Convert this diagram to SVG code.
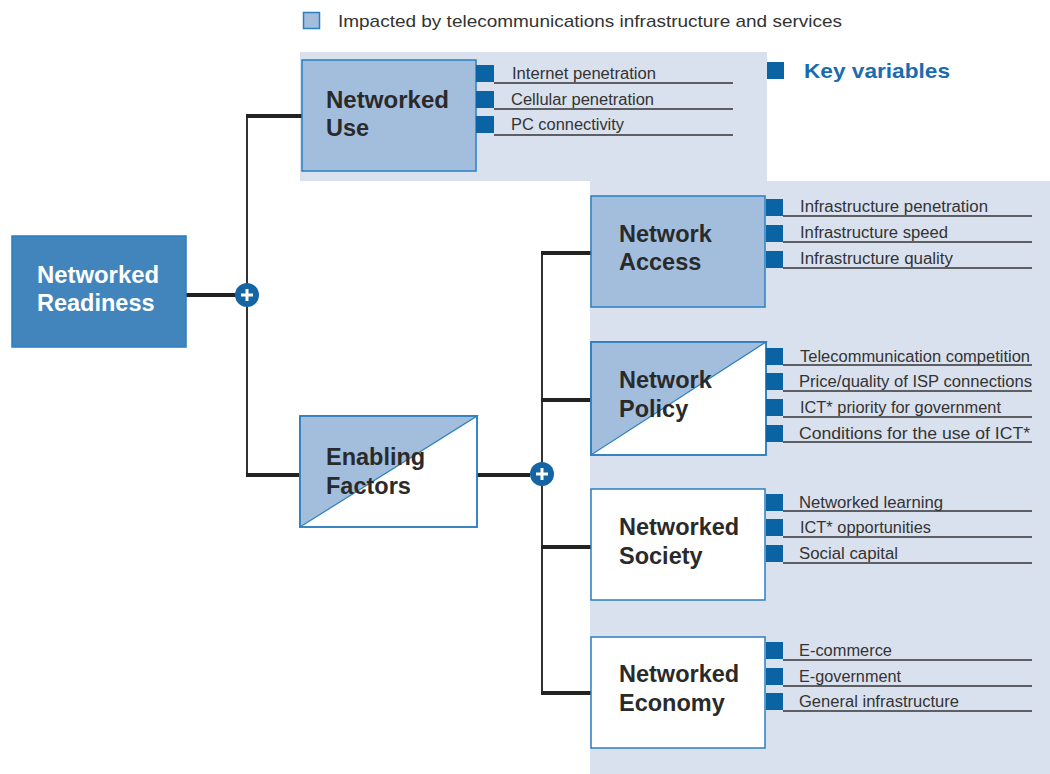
<svg xmlns="http://www.w3.org/2000/svg" width="1050" height="774" viewBox="0 0 1050 774">
  <defs>
    <style>
      .panel { fill: #dae1ee; }
      .box { stroke: #2b7fc0; stroke-width: 1.5; }
      .lb { fill: #a3bedd; }
      .wh { fill: #ffffff; }
      .diag { fill: #a3bedd; stroke: #2b7fc0; stroke-width: 1.2; }
      .title { font-family: "Liberation Sans", Arial, sans-serif; font-weight: bold; font-size: 23.5px; fill: #2a2a2a; }
      .title-w { font-family: "Liberation Sans", Arial, sans-serif; font-weight: bold; font-size: 23.5px; fill: #ffffff; }
      .var { font-family: "Liberation Sans", Arial, sans-serif; font-size: 16px; fill: #333333; }
      .tab { fill: #0a64a4; }
      .rule { stroke: #333333; stroke-width: 1.5; fill: none; }
      .thick { stroke: #222222; stroke-width: 4; fill: none; }
      .thin { stroke: #333333; stroke-width: 2; fill: none; }
      .plus-c { fill: #1565a5; }
      .plus { stroke: #ffffff; stroke-width: 3; }
    </style>
    <g id="plus">
      <circle class="plus-c" r="12"/>
      <line class="plus" x1="-6" y1="0" x2="6" y2="0"/>
      <line class="plus" x1="0" y1="-6" x2="0" y2="6"/>
    </g>
  </defs>

  <rect width="1050" height="774" fill="#ffffff"/>

  <!-- shaded area holding the telecom-related measures -->
  <polygon class="panel" points="300,52 767,52 767,181 1050,181 1050,774 590,774 590,181 300,181"/>

  <!-- legend -->
  <g id="legend">
    <rect x="303.5" y="12.5" width="16" height="16" fill="#a3bedd" stroke="#2b7fc0" stroke-width="1.5"/>
    <text x="338" y="27" class="var" style="font-size:17px" textLength="504" lengthAdjust="spacingAndGlyphs">Impacted by telecommunications infrastructure and services</text>
    <rect x="767" y="62" width="17" height="17" class="tab"/>
    <text x="804" y="78" font-family="Liberation Sans, Arial, sans-serif" font-weight="bold" font-size="21" fill="#1a6bb0" textLength="146" lengthAdjust="spacingAndGlyphs">Key variables</text>
  </g>

  <!-- connectors -->
  <g id="connectors">
    <line class="thick" x1="186" y1="295" x2="236" y2="295"/>
    <line class="thin" x1="247" y1="114" x2="247" y2="476"/>
    <line class="thick" x1="246" y1="116" x2="302" y2="116"/>
    <line class="thick" x1="246" y1="475" x2="300" y2="475"/>
    <line class="thick" x1="477" y1="475" x2="530" y2="475"/>
    <line class="thin" x1="542" y1="252" x2="542" y2="694"/>
    <line class="thick" x1="541" y1="253" x2="591" y2="253"/>
    <line class="thick" x1="541" y1="400" x2="591" y2="400"/>
    <line class="thick" x1="541" y1="547" x2="591" y2="547"/>
    <line class="thick" x1="541" y1="693" x2="591" y2="693"/>
    <use href="#plus" x="247" y="295"/>
    <use href="#plus" x="542" y="474"/>
  </g>

  <!-- Networked Readiness -->
  <g id="networked-readiness">
    <rect x="12" y="236" width="174" height="111" fill="#4285bd" stroke="#2b7fc0" stroke-width="1.5"/>
    <text x="37" y="283" class="title-w" textLength="122" lengthAdjust="spacingAndGlyphs">Networked</text>
    <text x="37" y="311" class="title-w">Readiness</text>
  </g>

  <!-- Networked Use -->
  <g id="networked-use">
    <rect x="302" y="60" width="174" height="111" class="box lb"/>
    <text x="326" y="108" class="title" textLength="123" lengthAdjust="spacingAndGlyphs">Networked</text>
    <text x="326" y="136" class="title">Use</text>
    <rect x="476" y="65" width="18" height="17" class="tab"/>
    <rect x="476" y="91" width="18" height="17" class="tab"/>
    <rect x="476" y="116" width="18" height="17" class="tab"/>
    <line class="rule" x1="494" y1="83" x2="733" y2="83"/>
    <line class="rule" x1="494" y1="109" x2="733" y2="109"/>
    <line class="rule" x1="494" y1="135" x2="733" y2="135"/>
    <text x="512" y="79" class="var" textLength="144" lengthAdjust="spacingAndGlyphs">Internet penetration</text>
    <text x="511" y="105" class="var" textLength="143" lengthAdjust="spacingAndGlyphs">Cellular penetration</text>
    <text x="511" y="130" class="var" textLength="113" lengthAdjust="spacingAndGlyphs">PC connectivity</text>
  </g>

  <!-- Enabling Factors -->
  <g id="enabling-factors">
    <rect x="300" y="416" width="177" height="111" class="box wh"/>
    <polygon class="diag" points="300,416 477,416 300,527"/>
    <rect x="300" y="416" width="177" height="111" class="box" fill="none"/>
    <text x="326" y="465" class="title">Enabling</text>
    <text x="326" y="494" class="title">Factors</text>
  </g>

  <!-- Network Access -->
  <g id="network-access">
    <rect x="591" y="196" width="174" height="111" class="box lb"/>
    <text x="619" y="242" class="title">Network</text>
    <text x="619" y="270" class="title">Access</text>
    <rect x="766" y="199" width="17" height="17" class="tab"/>
    <rect x="766" y="225" width="17" height="17" class="tab"/>
    <rect x="766" y="251" width="17" height="17" class="tab"/>
    <line class="rule" x1="783" y1="216" x2="1032" y2="216"/>
    <line class="rule" x1="783" y1="242" x2="1032" y2="242"/>
    <line class="rule" x1="783" y1="268" x2="1032" y2="268"/>
    <text x="800" y="212" class="var" textLength="188" lengthAdjust="spacingAndGlyphs">Infrastructure penetration</text>
    <text x="800" y="238" class="var" textLength="148" lengthAdjust="spacingAndGlyphs">Infrastructure speed</text>
    <text x="800" y="264" class="var" textLength="153" lengthAdjust="spacingAndGlyphs">Infrastructure quality</text>
  </g>

  <!-- Network Policy -->
  <g id="network-policy">
    <rect x="591" y="342" width="175" height="113" class="box wh"/>
    <polygon class="diag" points="591,342 766,342 591,455"/>
    <rect x="591" y="342" width="175" height="113" class="box" fill="none"/>
    <text x="619" y="388" class="title">Network</text>
    <text x="619" y="417" class="title">Policy</text>
    <rect x="766" y="348" width="17" height="17" class="tab"/>
    <rect x="766" y="373" width="17" height="17" class="tab"/>
    <rect x="766" y="399" width="17" height="17" class="tab"/>
    <rect x="766" y="425" width="17" height="17" class="tab"/>
    <line class="rule" x1="783" y1="365" x2="1032" y2="365"/>
    <line class="rule" x1="783" y1="391" x2="1032" y2="391"/>
    <line class="rule" x1="783" y1="417" x2="1032" y2="417"/>
    <line class="rule" x1="783" y1="442" x2="1032" y2="442"/>
    <text x="800" y="362" class="var" textLength="230" lengthAdjust="spacingAndGlyphs">Telecommunication competition</text>
    <text x="799" y="387" class="var" textLength="233" lengthAdjust="spacingAndGlyphs">Price/quality of ISP connections</text>
    <text x="800" y="413" class="var" textLength="201" lengthAdjust="spacingAndGlyphs">ICT* priority for government</text>
    <text x="799" y="439" class="var" textLength="231" lengthAdjust="spacingAndGlyphs">Conditions for the use of ICT*</text>
  </g>

  <!-- Networked Society -->
  <g id="networked-society">
    <rect x="591" y="489" width="174" height="111" class="box wh"/>
    <text x="619" y="535" class="title">Networked</text>
    <text x="619" y="564" class="title">Society</text>
    <rect x="766" y="494" width="17" height="17" class="tab"/>
    <rect x="766" y="519" width="17" height="17" class="tab"/>
    <rect x="766" y="545" width="17" height="17" class="tab"/>
    <line class="rule" x1="783" y1="511" x2="1032" y2="511"/>
    <line class="rule" x1="783" y1="537" x2="1032" y2="537"/>
    <line class="rule" x1="783" y1="563" x2="1032" y2="563"/>
    <text x="799" y="508" class="var" textLength="144" lengthAdjust="spacingAndGlyphs">Networked learning</text>
    <text x="800" y="533" class="var" textLength="131" lengthAdjust="spacingAndGlyphs">ICT* opportunities</text>
    <text x="799" y="559" class="var" textLength="99" lengthAdjust="spacingAndGlyphs">Social capital</text>
  </g>

  <!-- Networked Economy -->
  <g id="networked-economy">
    <rect x="591" y="637" width="174" height="111" class="box wh"/>
    <text x="619" y="682" class="title">Networked</text>
    <text x="619" y="711" class="title">Economy</text>
    <rect x="766" y="642" width="17" height="17" class="tab"/>
    <rect x="766" y="668" width="17" height="17" class="tab"/>
    <rect x="766" y="693" width="17" height="17" class="tab"/>
    <line class="rule" x1="783" y1="660" x2="1032" y2="660"/>
    <line class="rule" x1="783" y1="686" x2="1032" y2="686"/>
    <line class="rule" x1="783" y1="711" x2="1032" y2="711"/>
    <text x="799" y="656" class="var" textLength="93" lengthAdjust="spacingAndGlyphs">E-commerce</text>
    <text x="799" y="682" class="var" textLength="102" lengthAdjust="spacingAndGlyphs">E-government</text>
    <text x="799" y="707" class="var" textLength="160" lengthAdjust="spacingAndGlyphs">General infrastructure</text>
  </g>
</svg>
